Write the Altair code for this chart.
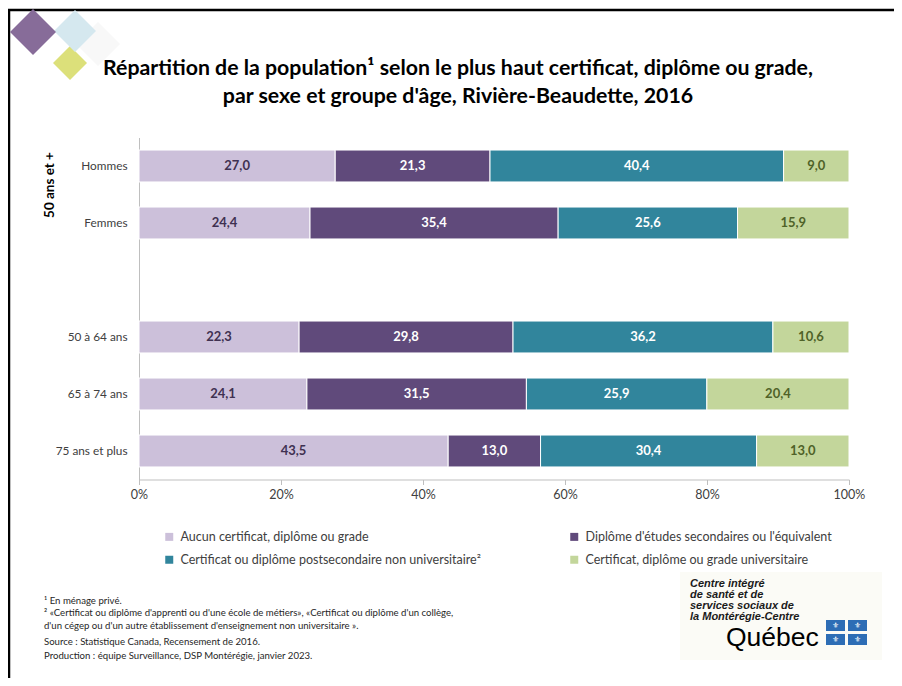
import altair as alt
import pandas as pd

# ---------------- data ----------------
groupes = ["Hommes", "Femmes", "50 à 64 ans", "65 à 74 ans", "75 ans et plus"]
y_domain = ["Hommes", "Femmes", " ", "50 à 64 ans", "65 à 74 ans", "75 ans et plus"]
categories = [
    "Aucun certificat, diplôme ou grade",
    "Diplôme d'études secondaires ou l'équivalent",
    "Certificat ou diplôme postsecondaire non universitaire²",
    "Certificat, diplôme ou grade universitaire",
]
aucun = [27.0, 24.4, 22.3, 24.1, 43.5]
secondaire = [21.3, 35.4, 29.8, 31.5, 13.0]
postsec = [40.4, 25.6, 36.2, 25.9, 30.4]
univ = [9.0, 15.9, 10.6, 20.4, 13.0]
x_ticks = [0, 0.2, 0.4, 0.6, 0.8, 1.0]

title_lines = [
    "Répartition de la population¹ selon le plus haut certificat, diplôme ou grade,",
    "par sexe et groupe d'âge, Rivière-Beaudette, 2016",
]
footnotes = [
    "¹ En ménage privé.",
    "² «Certificat ou diplôme d'apprenti ou d'une école de métiers», «Certificat ou diplôme d'un collège,",
    "d'un cégep ou d'un autre établissement d'enseignement non universitaire ».",
    "Source : Statistique Canada, Recensement de 2016.",
    "Production : équipe Surveillance, DSP Montérégie, janvier 2023.",
]
logo_lines = ["Centre intégré", "de santé et de", "services sociaux de", "la Montérégie-Centre"]

colors = ["#CCC0DA", "#604A7B", "#31859C", "#C3D69B"]
text_colors = ["#3F3151", "#FFFFFF", "#FFFFFF", "#4F6228"]

rows = []
for ci, (cat, vals) in enumerate(zip(categories, [aucun, secondaire, postsec, univ])):
    for g, v in zip(groupes, vals):
        rows.append({"groupe": g, "categorie": cat, "ordre": ci, "valeur": v})
df = pd.DataFrame(rows)

# legend is filled column by column: order the domain so it reads row by row
legend_order = [categories[0], categories[2], categories[1], categories[3]]
legend_colors = [colors[0], colors[2], colors[1], colors[3]]

FONT = "Lato"
W, H = 710, 342

base = (
    alt.Chart(df)
    .transform_joinaggregate(total="sum(valeur)", groupby=["groupe"])
    .transform_calculate(pct="datum.valeur / datum.total")
    .transform_stack(
        stack="pct", groupby=["groupe"], as_=["x0", "x1"],
        sort=[alt.SortField("ordre", order="ascending")],
    )
    .transform_calculate(
        mid="(datum.x0 + datum.x1) / 2",
        label="replace(format(datum.valeur, '.1f'), '.', ',')",
    )
)

y_scale = alt.Scale(domain=y_domain, paddingInner=0.44, paddingOuter=0.22)
y_enc = alt.Y(
    "groupe:N", scale=y_scale,
    axis=alt.Axis(title=None, domain=True, domainColor="#BFBFBF", domainWidth=1,
                  ticks=False, labelFont=FONT, labelFontSize=11.8, labelColor="#404040",
                  labelPadding=12),
)
x_enc = alt.X(
    "x0:Q", scale=alt.Scale(domain=[0, 1]),
    axis=alt.Axis(title=None, format="%", values=x_ticks, grid=False,
                  domainColor="#BFBFBF", tickColor="#BFBFBF", tickSize=5,
                  labelFlush=False, labelOverlap=False,
                  labelFont=FONT, labelFontSize=12.5, labelColor="#404040", labelPadding=4),
)

bars = base.mark_bar(stroke="white", strokeWidth=1).encode(
    x=x_enc, x2="x1:Q", y=y_enc,
    color=alt.Color(
        "categorie:N", scale=alt.Scale(domain=legend_order, range=legend_colors),
        legend=alt.Legend(title=None, orient="none", legendX=24, legendY=393,
                          columns=2, columnPadding=87, rowPadding=10,
                          symbolType="square", symbolSize=64, symbolStrokeWidth=0,
                          labelFont=FONT, labelFontSize=12.5, labelColor="#404040",
                          labelLimit=600, labelOffset=5),
    ),
)

text_layers = []
for ci, cat in enumerate(categories):
    text_layers.append(
        base.transform_filter(alt.datum.ordre == ci)
        .mark_text(font=FONT, fontSize=13, fontWeight="bold", color=text_colors[ci])
        .encode(x="mid:Q", y=alt.Y("groupe:N", scale=y_scale), text="label:N")
    )

dummy = pd.DataFrame({"d": [0]})
OX, OY = 139, 137.5  # plot origin in page pixels


def px(x):
    return x - OX


def py(y):
    return y - OY


deco = []
# border
deco.append(alt.Chart(dummy).mark_rule(color="black", strokeWidth=2.5).encode(
    x=alt.value(px(8)), x2=alt.value(px(902)), y=alt.value(py(10))))
deco.append(alt.Chart(dummy).mark_rule(color="black", strokeWidth=2.5).encode(
    x=alt.value(px(9)), y=alt.value(py(9)), y2=alt.value(py(690))))
# diamonds
for (cx, cy, r, col) in [(98, 44, 22, "#F8F8F8"), (70, 63, 17, "#DCE07A"),
                         (75, 31, 21, "#D5E8EF"), (33, 32, 23, "#876C99")]:
    deco.append(alt.Chart(dummy).mark_point(shape="diamond", filled=True, opacity=1,
                                            color=col, size=(2 * r) ** 2).encode(
        x=alt.value(px(cx)), y=alt.value(py(cy))))
# title
for i, t in enumerate(title_lines):
    deco.append(alt.Chart(dummy).mark_text(text=t, font=FONT, fontSize=21.3, fontWeight="bold",
                                           color="#000000", align="center",
                                           baseline="alphabetic").encode(
        x=alt.value(px(458)), y=alt.value(py(75 + 28 * i))))
# side group label
deco.append(alt.Chart(dummy).mark_text(text="50 ans et +", font=FONT, fontSize=13.5,
                                       fontWeight="bold", angle=270, align="center",
                                       baseline="middle", color="#000000").encode(
    x=alt.value(px(50)), y=alt.value(py(185))))
# footnotes
for t, yy in zip(footnotes, [601, 613, 626, 642, 656]):
    deco.append(alt.Chart(dummy).mark_text(text=t, font=FONT, fontSize=9.6, align="left",
                                           baseline="middle", color="#262626").encode(
        x=alt.value(px(44)), y=alt.value(py(yy))))
# logo
deco.append(alt.Chart(dummy).mark_rect(color="#FBFBF6").encode(
    x=alt.value(px(680)), x2=alt.value(px(882)), y=alt.value(py(572)), y2=alt.value(py(660))))
for t, yy in zip(logo_lines, [584, 595, 606, 617]):
    deco.append(alt.Chart(dummy).mark_text(text=t, font="Liberation Sans", fontSize=11,
                                           fontWeight="bold", fontStyle="italic",
                                           align="left", baseline="middle",
                                           color="#1A1A1A").encode(
        x=alt.value(px(690)), y=alt.value(py(yy))))
deco.append(alt.Chart(dummy).mark_text(text="Québec", font="Liberation Sans", fontSize=26.5,
                                       align="left", baseline="alphabetic",
                                       color="#000000").encode(
    x=alt.value(px(726)), y=alt.value(py(646))))
for fx in [826, 848]:
    for fy in [620, 634]:
        deco.append(alt.Chart(dummy).mark_rect(color="#2D6DB5").encode(
            x=alt.value(px(fx)), x2=alt.value(px(fx + 19)),
            y=alt.value(py(fy)), y2=alt.value(py(fy + 11))))
        deco.append(alt.Chart(dummy).mark_text(text="⚜", font="DejaVu Sans", fontSize=8,
                                               color="white", align="center",
                                               baseline="middle").encode(
            x=alt.value(px(fx + 9.5)), y=alt.value(py(fy + 5.5))))

chart = alt.layer(*deco, bars, *text_layers).properties(
    width=W, height=H,
    autosize=alt.AutoSizeParams(type="none"),
    padding={"left": 131, "top": 129.5, "right": 886 - 131 - W, "bottom": 670 - 129.5 - H},
    background="white",
).configure_view(stroke=None)

chart.save("out.html", embed_options={"renderer": "svg", "actions": False})
